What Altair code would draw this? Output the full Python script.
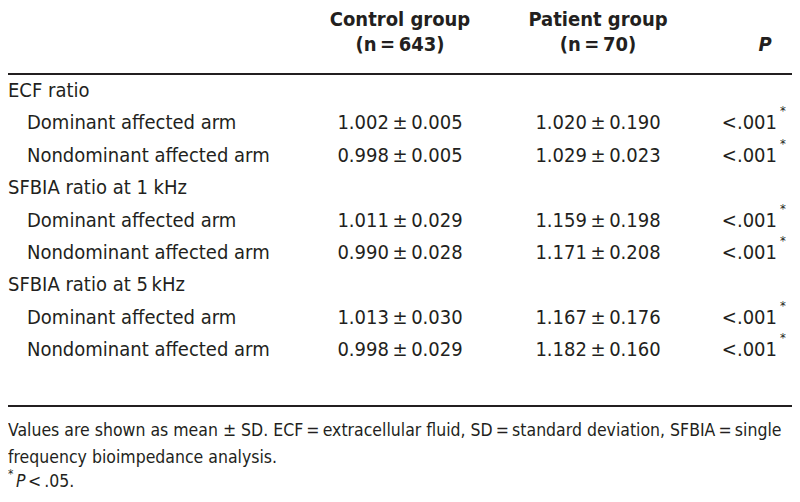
import altair as alt
import pandas as pd

# ---------------- data ----------------
row_labels = ["ECF ratio", "Dominant affected arm", "Nondominant affected arm",
              "SFBIA ratio at 1 kHz", "Dominant affected arm", "Nondominant affected arm",
              "SFBIA ratio at 5\u2009kHz", "Dominant affected arm", "Nondominant affected arm"]
row_indent = [0, 1, 1, 0, 1, 1, 0, 1, 1]
control_mean = [None, 1.002, 0.998, None, 1.011, 0.990, None, 1.013, 0.998]
control_sd = [None, 0.005, 0.005, None, 0.029, 0.028, None, 0.030, 0.029]
patient_mean = [None, 1.020, 1.029, None, 1.159, 1.171, None, 1.167, 1.182]
patient_sd = [None, 0.190, 0.023, None, 0.198, 0.208, None, 0.176, 0.160]
p_values = [None, "<.001", "<.001", None, "<.001", "<.001", None, "<.001", "<.001"]

header_control = ["Control group", "(n\u2009=\u2009643)"]
header_patient = ["Patient group", "(n\u2009=\u200970)"]
header_p = "P"

footnote1 = ("Values are shown as mean \u00b1 SD. ECF\u2009=\u2009extracellular fluid, "
             "SD\u2009=\u2009standard deviation, SFBIA\u2009=\u2009single")
footnote2 = "frequency bioimpedance analysis."
footnote3 = "<\u2009.05."

FONT = "DejaVu Sans Condensed, Liberation Sans Narrow, Roboto, sans-serif"
COL = "#231f20"
W, H = 784, 486
BODY = 20
FN = 17.5


def fmt(m, s):
    if m is None:
        return ""
    return f"{m:.3f}\u2009\u00b1\u2009{s:.3f}"


body = pd.DataFrame({
    "row": list(range(len(row_labels))),
    "label": row_labels,
    "indent": row_indent,
    "control": [fmt(m, s) for m, s in zip(control_mean, control_sd)],
    "patient": [fmt(m, s) for m, s in zip(patient_mean, patient_sd)],
    "p": [p if p else "" for p in p_values],
    "star": ["*" if p else "" for p in p_values],
})

yscale = alt.Scale(domain=[0, 8], range=[83, 342])
Y = alt.Y("row:Q", scale=yscale, axis=None)

base = alt.Chart(body)


def txt(**kw):
    opts = dict(baseline="middle", font=FONT, fontSize=BODY, color=COL)
    opts.update(kw)
    return opts


groups = base.transform_filter("datum.indent == 0").mark_text(**txt(align="left")).encode(
    x=alt.value(0), y=Y, text="label:N")
items = base.transform_filter("datum.indent == 1").mark_text(**txt(align="left")).encode(
    x=alt.value(19), y=Y, text="label:N")
ctrl = base.mark_text(**txt(align="center")).encode(x=alt.value(392), y=Y, text="control:N")
pat = base.mark_text(**txt(align="center")).encode(x=alt.value(590), y=Y, text="patient:N")
pcol = base.mark_text(**txt(align="right")).encode(x=alt.value(769), y=Y, text="p:N")
star = base.mark_text(**txt(align="left", fontSize=13, dy=-12)).encode(
    x=alt.value(772), y=Y, text="star:N")

hdr = pd.DataFrame({"c": header_control, "p": header_patient, "line": [0, 1]})
hbase = alt.Chart(hdr)
HY = alt.Y("line:Q", scale=alt.Scale(domain=[0, 1], range=[12, 37]), axis=None)
hctrl = hbase.mark_text(**txt(align="center", fontWeight="bold")).encode(
    x=alt.value(392), y=HY, text="c:N")
hpat = hbase.mark_text(**txt(align="center", fontWeight="bold")).encode(
    x=alt.value(590), y=HY, text="p:N")

one = pd.DataFrame({"t": [header_p]})
hp = alt.Chart(one).mark_text(**txt(align="center", fontWeight="bold", fontStyle="italic")).encode(
    x=alt.value(757), y=alt.value(37), text="t:N")

rule_top = alt.Chart(one).mark_rule(color=COL, strokeWidth=2).encode(
    x=alt.value(0), x2=alt.value(W), y=alt.value(66))
rule_bot = alt.Chart(one).mark_rule(color=COL, strokeWidth=2).encode(
    x=alt.value(0), x2=alt.value(W), y=alt.value(398))

fn = pd.DataFrame({"t": [footnote1, footnote2], "line": [0, 1]})
fnotes = alt.Chart(fn).mark_text(**txt(align="left", fontSize=FN)).encode(
    x=alt.value(0),
    y=alt.Y("line:Q", scale=alt.Scale(domain=[0, 1], range=[423, 450]), axis=None),
    text="t:N")

fstar = alt.Chart(pd.DataFrame({"t": ["*"]})).mark_text(**txt(align="left", fontSize=12)).encode(
    x=alt.value(0), y=alt.value(466), text="t:N")
fP = alt.Chart(pd.DataFrame({"t": ["P"]})).mark_text(**txt(align="left", fontSize=FN, fontStyle="italic")).encode(
    x=alt.value(8), y=alt.value(474), text="t:N")
frest = alt.Chart(pd.DataFrame({"t": [footnote3]})).mark_text(**txt(align="left", fontSize=FN)).encode(
    x=alt.value(20), y=alt.value(474), text="t:N")

chart = alt.layer(
    rule_top, rule_bot, groups, items, ctrl, pat, pcol, star,
    hctrl, hpat, hp, fnotes, fstar, fP, frest
).resolve_scale(y="independent").properties(
    width=W, height=H, padding=0, autosize="none", background="white"
).configure_view(stroke=None)

chart.save("out.html", embed_options={"renderer": "svg", "actions": False})
